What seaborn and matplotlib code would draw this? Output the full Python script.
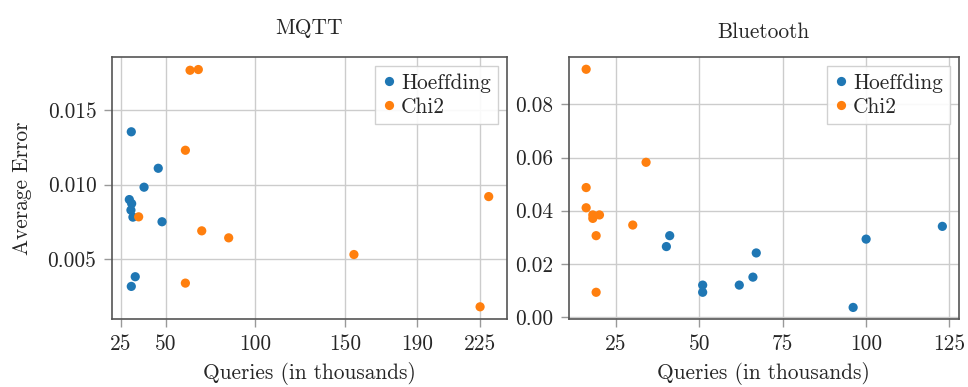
import matplotlib
matplotlib.use("Agg")
import matplotlib.pyplot as plt
import seaborn as sns
import pandas as pd
from matplotlib.ticker import FixedLocator, FixedFormatter

# ---------------- data ----------------
mqtt_hoeffding_x = [30.9, 45.9, 38.0, 29.8, 31.1, 30.7, 31.8, 48.0, 33.1, 30.9]
mqtt_hoeffding_y = [0.01354, 0.01109, 0.00982, 0.00899, 0.00872, 0.00828, 0.00781, 0.00750, 0.00381, 0.00316]
mqtt_chi2_x = [63.6, 68.2, 61.0, 35.0, 70.1, 85.1, 154.8, 229.8, 61.0, 225.0]
mqtt_chi2_y = [0.01767, 0.01772, 0.01230, 0.00783, 0.00689, 0.00642, 0.00530, 0.00919, 0.00338, 0.00179]

bt_hoeffding_x = [40.1, 41.1, 51.0, 51.0, 62.0, 66.1, 67.1, 96.2, 100.1, 123.0]
bt_hoeffding_y = [0.0265, 0.0306, 0.0120, 0.0093, 0.0120, 0.0150, 0.0241, 0.0036, 0.0293, 0.0341]
bt_chi2_x = [16.0, 16.0, 16.0, 18.0, 18.0, 20.0, 19.0, 19.0, 30.0, 34.0]
bt_chi2_y = [0.0932, 0.0487, 0.0411, 0.0384, 0.0371, 0.0384, 0.0306, 0.0093, 0.0346, 0.0582]

methods = ["Hoeffding", "Chi2"]
titles = ["MQTT", "Bluetooth"]
x_label = "Queries (in thousands)"
y_label = "Average Error"

mqtt_xticks = [25, 50, 100, 150, 190, 225]
mqtt_xticklabels = ["25", "50", "100", "150", "190", "225"]
mqtt_yticks = [0.005, 0.010, 0.015]
mqtt_yticklabels = ["0.005", "0.010", "0.015"]

bt_xticks = [25, 50, 75, 100, 125]
bt_xticklabels = ["25", "50", "75", "100", "125"]
bt_yticks = [0.00, 0.02, 0.04, 0.06, 0.08]
bt_yticklabels = ["0.00", "0.02", "0.04", "0.06", "0.08"]

# ---------------- style ----------------
FS = 15.4
sns.set_theme(style="whitegrid")
plt.rcParams["font.family"] = ["cmr10", "DejaVu Serif"]
plt.rcParams["axes.unicode_minus"] = False
plt.rcParams["xtick.labelsize"] = FS
plt.rcParams["ytick.labelsize"] = FS
plt.rcParams["font.size"] = FS

palette = {"Hoeffding": "#1f77b4", "Chi2": "#ff7f0e"}


def make_df(hx, hy, cx, cy):
    return pd.DataFrame({
        "x": list(hx) + list(cx),
        "y": list(hy) + list(cy),
        "method": [methods[0]] * len(hx) + [methods[1]] * len(cx),
    })


fig = plt.figure(figsize=(9.68, 3.87), dpi=100)
ax1 = fig.add_axes([0.1154, 0.1749, 0.4084, 0.677])
ax2 = fig.add_axes([0.5873, 0.1749, 0.4034, 0.677])

df1 = make_df(mqtt_hoeffding_x, mqtt_hoeffding_y, mqtt_chi2_x, mqtt_chi2_y)
df2 = make_df(bt_hoeffding_x, bt_hoeffding_y, bt_chi2_x, bt_chi2_y)

specs = [
    (ax1, df1, mqtt_xticks, mqtt_xticklabels, mqtt_yticks, mqtt_yticklabels, (20, 240), (0.00095, 0.01854), 17),
    (ax2, df2, bt_xticks, bt_xticklabels, bt_yticks, bt_yticklabels, (10.7, 128.0), (-0.00087, 0.0977), 14),
]

for i, (ax, df, xt, xtl, yt, ytl, xl, yl, pad) in enumerate(specs):
    sns.scatterplot(data=df, x="x", y="y", hue="method", hue_order=methods,
                    palette=palette, s=44, edgecolor="none", linewidth=0, ax=ax, zorder=3)
    ax.set_xlim(*xl)
    ax.set_ylim(*yl)
    ax.xaxis.set_major_locator(FixedLocator(xt))
    ax.xaxis.set_major_formatter(FixedFormatter(xtl))
    ax.yaxis.set_major_locator(FixedLocator(yt))
    ax.yaxis.set_major_formatter(FixedFormatter(ytl))
    ax.set_xlabel(x_label, fontsize=FS, labelpad=6)
    ax.set_ylabel(y_label if i == 0 else "", fontsize=FS, labelpad=11)
    ax.set_title(titles[i], fontsize=FS, pad=pad)
    ax.tick_params(axis="both", which="major", labelsize=FS, length=6, width=1,
                   color="#999999", pad=5, direction="out", bottom=True, left=True)
    ax.grid(True, color="#cccccc", linewidth=1)
    for sp in ax.spines.values():
        sp.set_visible(True)
        sp.set_color("#555555")
        sp.set_linewidth(1.2)
    ax.set_facecolor("white")
    leg = ax.legend(loc="upper right", fontsize=FS, handlelength=0.6, handletextpad=0.25,
                    borderpad=0.35, labelspacing=0.2, borderaxespad=0.4, fancybox=False,
                    frameon=True, markerscale=1.0)
    leg.get_frame().set_edgecolor("#cccccc")
    leg.get_frame().set_linewidth(1)
    leg.get_frame().set_alpha(0.9)

fig.savefig("out.png", dpi=100)
